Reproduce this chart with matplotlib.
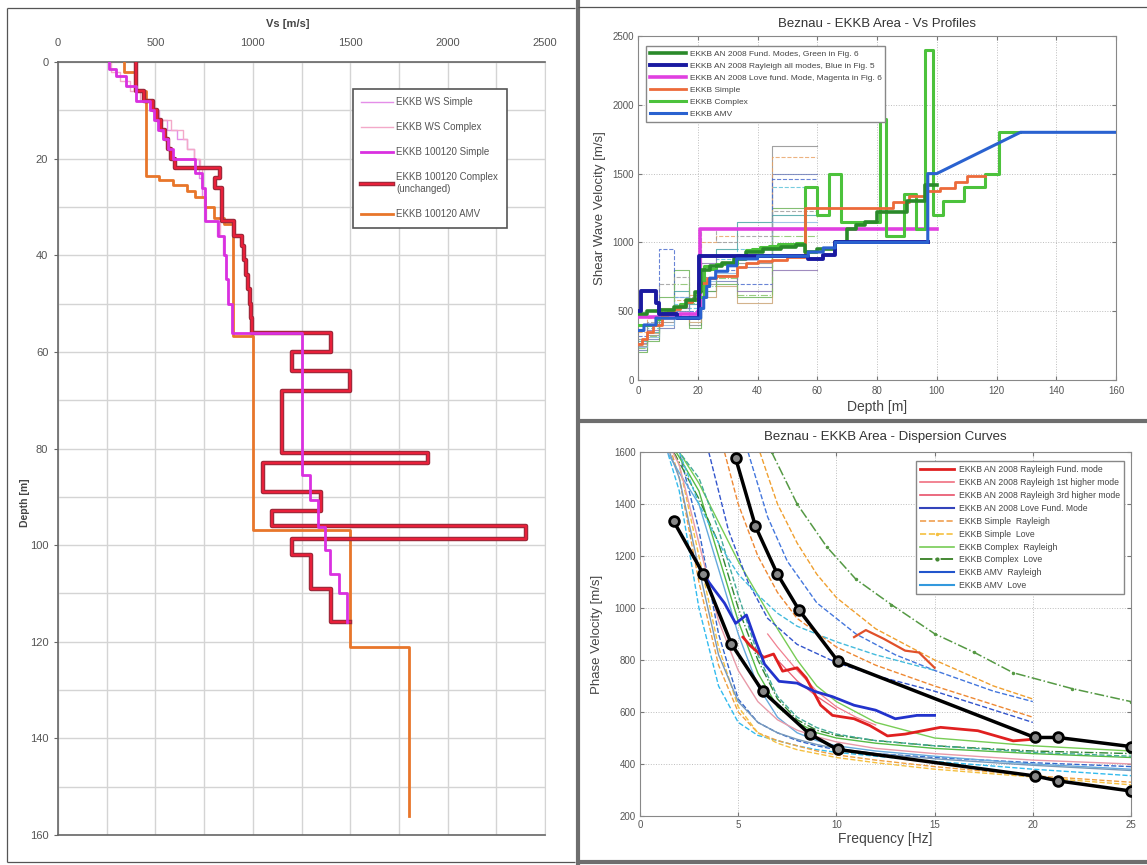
import numpy as np
import matplotlib
matplotlib.use("Agg")
import matplotlib.pyplot as plt
from matplotlib.lines import Line2D
import matplotlib.patheffects as pe

plt.rcParams['font.family'] = ['Liberation Sans', 'DejaVu Sans']

# ---------------- data: left panel (Vs vs depth) ----------------
WSS_TOPS = [0, 1.5, 3, 5, 8, 10, 12, 14, 16, 18, 20, 24, 28, 33, 36, 40, 45, 50]
WSS_VS = [260, 300, 350, 400, 480, 520, 560, 610, 660, 700, 725, 740, 755, 815, 845, 860, 875, 893]
WSS_BOTTOM = 56
WSC_TOPS = [0, 2, 4, 6, 8, 10, 12, 14, 16, 18, 20, 22, 26, 30, 33]
WSC_VS = [270, 320, 370, 420, 470, 510, 580, 640, 660, 700, 730, 740, 750, 760, 830]
WSC_BOTTOM = 36
SIMPLE_TOPS = [0, 1.5, 3, 5, 8, 10, 12, 14, 16, 18, 20, 23, 26, 33, 36, 40, 45, 50, 56,
               85.5, 90.7, 96.2, 101, 106, 110]
SIMPLE_VS = [260, 300, 350, 400, 470, 495, 515, 540, 565, 590, 705, 740, 755, 820, 850, 862,
             875, 893, 1250, 1293, 1336, 1370, 1396, 1440, 1483]
SIMPLE_BOTTOM = 116
COMPLEX_TOPS = [0, 6, 8, 10, 12, 14, 16, 18, 20, 22, 24, 26, 33, 36, 38, 41, 44, 47, 50, 53,
                56, 60, 64, 68, 81, 83, 89, 93, 96, 98.8, 102, 109, 116]
COMPLEX_VS = [400, 440, 490, 510, 530, 550, 565, 580, 600, 830, 805, 840, 905, 945, 955, 965,
              975, 985, 992, 998, 1400, 1200, 1500, 1150, 1900, 1050, 1350, 1100, 2400, 1200,
              1300, 1400, 1500]
COMPLEX_BOTTOM = 116
AMV_TOPS = [0, 2, 6, 23.5, 24.5, 25.5, 26.7, 28, 30, 32.2, 33.5, 56.8, 96.8, 121]
AMV_VS = [340, 400, 450, 520, 590, 660, 705, 755, 800, 850, 900, 1000, 1500, 1800]
AMV_BOTTOM = 156

# ---------------- data: top-right panel (Vs profiles vs depth) ----------------
ENS_TOPS = [0, 3, 7, 12, 17, 21, 26, 33, 45]
ENS_BOTTOM = 60
ENS_VS = [
    [250, 330, 420, 480, 400, 700, 760, 850, 1700],
    [220, 300, 380, 500, 450, 650, 720, 820, 1500],
    [300, 380, 450, 550, 520, 800, 880, 950, 1400],
    [200, 280, 600, 800, 380, 650, 700, 600, 1250],
    [350, 450, 500, 580, 620, 1000, 1050, 1100, 1620],
    [280, 350, 480, 650, 550, 900, 950, 1150, 1200],
    [320, 400, 950, 600, 500, 750, 800, 700, 1460],
    [260, 340, 520, 460, 420, 600, 680, 560, 1100],
    [240, 310, 400, 600, 470, 720, 780, 900, 1150],
    [300, 420, 700, 750, 600, 1100, 1000, 1050, 1230],
    [270, 360, 440, 520, 580, 850, 900, 650, 800],
    [230, 320, 460, 700, 560, 680, 740, 620, 1050],
]
FUND_TOPS = [0, 3, 7, 12, 16, 19, 21, 24, 28, 32, 36, 42, 48, 53, 56, 60, 66, 70, 73, 76, 80, 90, 96]
FUND_VS = [480, 500, 510, 530, 580, 640, 800, 830, 850, 880, 930, 950, 965, 980, 930, 950,
           1000, 1100, 1130, 1150, 1220, 1300, 1420]
FUND_BOTTOM = 100
RAYALL_TOPS = [0, 1, 6, 7, 13, 20.5, 57, 62, 66]
RAYALL_VS = [500, 650, 560, 480, 450, 900, 880, 910, 1000]
RAYALL_BOTTOM = 97
LOVE_TOPS = [0, 8, 14, 20, 20.8]
LOVE_VS = [460, 470, 480, 500, 1100]
LOVE_BOTTOM = 100
RCOMPLEX_TOPS = COMPLEX_TOPS + [121]
RCOMPLEX_VS = COMPLEX_VS + [1800]
RCOMPLEX_BOTTOM = 128
RAMV_TOPS = [0, 2, 6, 21, 22, 23, 24, 26, 30, 33, 40, 57, 62, 66, 97]
RAMV_VS = [360, 400, 450, 520, 600, 680, 740, 790, 830, 880, 900, 930, 960, 1000, 1500]
RAMV_BOTTOM = 100
RAMV_TAIL_D = [128, 160]
RAMV_TAIL_V = [1800, 1800]

# ---------------- data: bottom-right panel (dispersion curves) ----------------
DC_F = [1, 2, 3, 4, 5, 6, 7, 8, 9, 10, 12, 15, 20, 25]
DC_LOW = [
    [1700, 1450, 1000, 700, 560, 510, 490, 470, 455, 445, 430, 410, 380, 355],
    [1750, 1500, 1100, 780, 600, 520, 490, 470, 450, 435, 415, 390, 355, 330],
    [1800, 1600, 1300, 900, 650, 560, 520, 490, 470, 455, 440, 425, 405, 390],
    [1700, 1580, 1450, 1200, 950, 750, 620, 560, 520, 500, 480, 460, 440, 425],
    [1750, 1550, 1200, 850, 620, 520, 480, 455, 440, 425, 405, 380, 350, 320],
    [1650, 1520, 1400, 1150, 900, 700, 580, 520, 490, 470, 450, 430, 400, 380],
    [1700, 1560, 1420, 1250, 1000, 800, 650, 570, 530, 510, 490, 470, 450, 440],
    [1700, 1500, 1150, 820, 640, 560, 520, 495, 475, 460, 440, 420, 395, 375],
    [1700, 1550, 1250, 950, 760, 640, 570, 530, 505, 485, 460, 440, 415, 400],
    [1700, 1600, 1480, 1330, 1180, 1050, 920, 800, 700, 640, 560, 500, 470, 450],
    [1700, 1600, 1500, 1300, 1050, 820, 660, 580, 540, 515, 490, 470, 445, 430],
]
H1_F = [3.5, 4.5, 5.5, 6.5, 8, 10, 12, 15, 20]
H1_V = [1600, 1300, 1100, 960, 860, 790, 740, 680, 560]
H2_F = [4.3, 5, 6, 7, 8, 10, 12, 15, 20]
H2_V = [1600, 1400, 1200, 1060, 960, 850, 780, 700, 580]
H3_F = [5.5, 6.5, 7.5, 9, 11, 13, 15, 18, 20]
H3_V = [1600, 1350, 1180, 1020, 900, 820, 760, 680, 640]
H4_F = [6.1, 7, 8, 9, 10, 12, 15, 18, 20]
H4_V = [1600, 1400, 1250, 1130, 1040, 920, 800, 700, 650]
H5_F = [6.7, 8, 9.5, 11, 12.8, 15, 17, 19, 22, 25]
H5_V = [1600, 1400, 1236, 1110, 1013, 901, 830, 751, 690, 640]
H6_F = [2, 3, 4, 5, 6, 7, 8, 10, 12, 15]
H6_V = [1600, 1400, 1250, 1130, 1050, 980, 930, 870, 820, 760]
P1_F = [6.5, 7, 8, 9, 10, 11, 12]
P1_V = [900, 850, 760, 680, 620, 580, 550]
P2_F = [7, 8, 9, 10]
P2_V = [800, 720, 660, 610]
RF_F = [5.24, 5.6, 6.3, 6.8, 7.26, 8.0, 8.46, 9.2, 9.8, 10.9, 11.7, 12.6, 13.5, 15.3, 17.2, 19.0, 20.0]
RF_V = [888, 856, 810, 823, 757, 770, 731, 626, 587, 574, 548, 508, 515, 541, 528, 489, 495]
RH_F = [10.9, 11.5, 12.4, 13.5, 14.2, 15.0]
RH_V = [888, 915, 882, 836, 829, 770]
LF_F = [3.2, 3.77, 4.3, 4.87, 5.42, 5.88, 6.34, 7.08, 8.0, 8.9, 9.8, 10.9, 12.0, 13.0, 14.1, 15.0]
LF_V = [1131, 1072, 1019, 941, 973, 875, 784, 718, 711, 679, 659, 626, 607, 574, 587, 587]
BLK1_F = [1.71, 3.22, 4.65, 6.25, 8.64, 10.06, 20.1, 21.3, 25.0]
BLK1_V = [1334, 1131, 862, 679, 515, 456, 354, 335, 296]
BLK2_F = [4.87, 5.88, 6.99, 8.09, 10.06, 20.1, 21.27, 25.0]
BLK2_V = [1576, 1314, 1131, 993, 797, 502, 502, 467]

# ---------------- helpers ----------------
W, H = 1147, 865
fig = plt.figure(figsize=(W / 100, H / 100), dpi=100)


def fx(px):
    return px / W


def fy(py):
    return 1 - py / H


def box(l, t, r, b):
    return [fx(l), fy(b), fx(r) - fx(l), fy(t) - fy(b)]


def steps(tops, vs, bottom):
    bounds = list(tops[1:]) + [bottom]
    d, v = [], []
    for t, b, val in zip(tops, bounds, vs):
        d += [t, b]
        v += [val, val]
    return np.array(d, float), np.array(v, float)


TICKC = '#555555'

# ---------------- left panel ----------------
ax1 = fig.add_axes(box(58, 62, 545, 835))
ax1.set_xlim(0, 2500)
ax1.set_ylim(160, 0)
ax1.xaxis.tick_top()
ax1.xaxis.set_label_position('top')
ax1.set_xticks(range(0, 2501, 500))
ax1.set_xticks(range(250, 2500, 500), minor=True)
ax1.set_yticks(range(0, 161, 20))
ax1.set_yticks(range(10, 160, 20), minor=True)
ax1.grid(which='both', color='#d4d4d4', lw=1.0)
ax1.set_axisbelow(True)
ax1.tick_params(which='major', direction='out', length=3, labelsize=8, colors='#666666',
                labelcolor=TICKC)
ax1.tick_params(axis='x', which='major', length=0, pad=10)
ax1.tick_params(axis='y', which='major', pad=4)
ax1.tick_params(which='minor', length=0)
for s in ['left', 'top', 'bottom']:
    ax1.spines[s].set_color('#666666')
    ax1.spines[s].set_linewidth(1.2)
ax1.spines['right'].set_color('#d4d4d4')
ax1.set_xlabel('Vs [m/s]', fontsize=8, fontweight='bold', color='#444444')
ax1.xaxis.set_label_coords(0.472, 1.045)
ax1.set_ylabel('Depth [m]', fontsize=7.5, fontweight='bold', color='#444444')
ax1.yaxis.set_label_coords(-0.058, 0.43)

d, v = steps(WSS_TOPS, WSS_VS, WSS_BOTTOM)
ax1.plot(v, d, color='#e48ee8', lw=1.0, label='EKKB WS Simple')
d, v = steps(WSC_TOPS, WSC_VS, WSC_BOTTOM)
ax1.plot(v, d, color='#f3a9c9', lw=1.0, label='EKKB WS Complex')
d, v = steps(AMV_TOPS, AMV_VS, AMV_BOTTOM)
l_amv, = ax1.plot(v, d, color='#e8762a', lw=2.0, label='EKKB 100120 AMV', zorder=3)
d, v = steps(COMPLEX_TOPS, COMPLEX_VS, COMPLEX_BOTTOM)
l_cpx, = ax1.plot(v, d, color='#e8203a', lw=1.6, zorder=4,
                  label='EKKB 100120 Complex\n(unchanged)',
                  path_effects=[pe.Stroke(linewidth=3.2, foreground='#9a2a3a'), pe.Normal()])
d, v = steps(SIMPLE_TOPS, SIMPLE_VS, SIMPLE_BOTTOM)
l_smp, = ax1.plot(v, d, color='#d930e0', lw=2.0, label='EKKB 100120 Simple', zorder=5)

h, lab = ax1.get_legend_handles_labels()
order = [lab.index(x) for x in ['EKKB WS Simple', 'EKKB WS Complex', 'EKKB 100120 Simple',
                                 'EKKB 100120 Complex\n(unchanged)', 'EKKB 100120 AMV']]
leg1 = ax1.legend([h[i] for i in order], [lab[i] for i in order], loc='upper left',
                  bbox_to_anchor=(0.595, 0.972), fontsize=7, labelspacing=1.55,
                  handlelength=3.3, handletextpad=0.3, borderpad=0.9, fancybox=False,
                  edgecolor='#555555', framealpha=1)
leg1.get_frame().set_linewidth(1.2)
for t in leg1.get_texts():
    t.set_color('#555555')

# ---------------- top-right panel ----------------
ax2 = fig.add_axes(box(638, 36, 1116, 380))
ax2.set_xlim(0, 160)
ax2.set_ylim(0, 2500)
ax2.set_xticks(range(0, 161, 20))
ax2.set_yticks(range(0, 2501, 500))
ax2.grid(color='#bdbdbd', ls=':', lw=0.7)
ax2.tick_params(direction='in', length=3, labelsize=7, colors='#777777', labelcolor=TICKC,
                top=True, right=True)
ax2.tick_params(axis='x', pad=4)
ax2.tick_params(axis='y', pad=3)
for s in ax2.spines.values():
    s.set_color('#888888')
ax2.set_title('Beznau - EKKB Area - Vs Profiles', fontsize=9.5, color='#333333', pad=6.5)
ax2.set_xlabel('Depth [m]', fontsize=10, color='#444444')
ax2.xaxis.set_label_coords(0.5, -0.058)
ax2.set_ylabel('Shear Wave Velocity [m/s]', fontsize=9.5, color='#444444')
ax2.yaxis.set_label_coords(-0.066, 0.5)

ens_colors = ['#8a8a8a', '#6a7ab8', '#55c0d8', '#66b050', '#e8a060', '#40a0a0',
              '#4466cc', '#c8a070', '#88b8e0', '#999999', '#8870b0', '#80c060']
ens_styles = ['-', '-', '--', '-', '--', '-', '--', '-', '-', '--', '-', '-.']
for row, c, ls in zip(ENS_VS, ens_colors, ens_styles):
    d, v = steps(ENS_TOPS, row, ENS_BOTTOM)
    ax2.plot(d, v, color=c, lw=0.8, ls=ls, alpha=0.8, zorder=2)

d, v = steps(LOVE_TOPS, LOVE_VS, LOVE_BOTTOM)
ax2.plot(d, v, color='#e040e0', lw=2.6, zorder=3,
         label='EKKB AN 2008 Love fund. Mode, Magenta in Fig. 6')
d, v = steps(RCOMPLEX_TOPS, RCOMPLEX_VS, RCOMPLEX_BOTTOM)
ax2.plot(d, v, color='#4cc23c', lw=2.2, zorder=4, label='EKKB Complex')
d, v = steps(SIMPLE_TOPS, SIMPLE_VS, SIMPLE_BOTTOM)
ax2.plot(d, v, color='#ec6a3a', lw=2.0, zorder=5, label='EKKB Simple')
d, v = steps(FUND_TOPS, FUND_VS, FUND_BOTTOM)
ax2.plot(d, v, color='#2a8a2a', lw=2.6, zorder=5,
         label='EKKB AN 2008 Fund. Modes, Green in Fig. 6')
d, v = steps(RAYALL_TOPS, RAYALL_VS, RAYALL_BOTTOM)
ax2.plot(d, v, color='#1a1aa0', lw=2.8, zorder=6,
         label='EKKB AN 2008 Rayleigh all modes, Blue in Fig. 5')
d, v = steps(RAMV_TOPS, RAMV_VS, RAMV_BOTTOM)
d = np.concatenate([d, RAMV_TAIL_D])
v = np.concatenate([v, RAMV_TAIL_V])
ax2.plot(d, v, color='#2a62d0', lw=2.2, zorder=7, label='EKKB AMV')

h, lab = ax2.get_legend_handles_labels()
names2 = ['EKKB AN 2008 Fund. Modes, Green in Fig. 6',
          'EKKB AN 2008 Rayleigh all modes, Blue in Fig. 5',
          'EKKB AN 2008 Love fund. Mode, Magenta in Fig. 6',
          'EKKB Simple', 'EKKB Complex', 'EKKB AMV']
order = [lab.index(x) for x in names2]
leg2 = ax2.legend([h[i] for i in order], [lab[i] for i in order], loc='upper left',
                  bbox_to_anchor=(0.008, 0.982), fontsize=6, labelspacing=0.5,
                  handlelength=4.3, handletextpad=0.5, borderpad=0.45, fancybox=False,
                  edgecolor='#888888', framealpha=1)
for t in leg2.get_texts():
    t.set_color('#444444')

# ---------------- bottom-right panel ----------------
ax3 = fig.add_axes(box(640, 452, 1131, 816))
ax3.set_xlim(0, 25)
ax3.set_ylim(200, 1600)
ax3.set_xticks(range(0, 26, 5))
ax3.set_yticks(range(200, 1601, 200))
ax3.grid(color='#bdbdbd', ls=':', lw=0.7)
ax3.tick_params(direction='in', length=3, labelsize=7, colors='#777777', labelcolor=TICKC,
                top=True, right=True)
ax3.tick_params(axis='x', pad=3)
ax3.tick_params(axis='y', pad=3)
for s in ax3.spines.values():
    s.set_color('#888888')
ax3.set_title('Beznau - EKKB Area - Dispersion Curves', fontsize=9.5, color='#333333', pad=8.5)
ax3.set_xlabel('Frequency [Hz]', fontsize=10, color='#444444')
ax3.xaxis.set_label_coords(0.5, -0.045)
ax3.set_ylabel('Phase Velocity [m/s]', fontsize=9.5, color='#444444')
ax3.yaxis.set_label_coords(-0.075, 0.5)

low_colors = ['#33bbee', '#f0a040', '#3366cc', '#55bb44', '#f5c040', '#66aadd', '#338833',
              '#7799bb', '#e89aa8', '#77cc55', '#44aa99']
low_styles = ['--', '--', '--', '-', '--', '-', '-.', '-', '-', '-', '--']
for row, c, ls in zip(DC_LOW, low_colors, low_styles):
    ax3.plot(DC_F, row, color=c, lw=1.0, ls=ls, zorder=2)
ax3.plot(H1_F, H1_V, color='#3355cc', lw=1.0, ls='--', zorder=2)
ax3.plot(H2_F, H2_V, color='#ee8833', lw=1.0, ls='--', zorder=2)
ax3.plot(H3_F, H3_V, color='#4477dd', lw=1.0, ls='--', zorder=2)
ax3.plot(H4_F, H4_V, color='#f0a030', lw=1.0, ls='--', zorder=2)
ax3.plot(H5_F, H5_V, color='#559944', lw=1.1, ls='-.', marker='.', ms=3, zorder=2)
ax3.plot(H6_F, H6_V, color='#44bbdd', lw=1.0, ls='--', zorder=2)
ax3.plot(P1_F, P1_V, color='#f08090', lw=0.9, zorder=2)
ax3.plot(P2_F, P2_V, color='#e86078', lw=0.9, zorder=2)

ax3.plot(RH_F, RH_V, color='#e0502a', lw=1.6, zorder=4)
ax3.plot(RF_F, RF_V, color='#e02020', lw=2.0, zorder=4)
ax3.plot(LF_F, LF_V, color='#2233cc', lw=2.0, zorder=4)
ax3.plot(BLK1_F, BLK1_V, color='black', lw=2.5, marker='o', ms=7, mfc='#888888',
         mec='black', mew=2, zorder=6)
ax3.plot(BLK2_F, BLK2_V, color='black', lw=2.5, marker='o', ms=7, mfc='#888888',
         mec='black', mew=2, zorder=6)

leg_items = [
    ('EKKB AN 2008 Rayleigh Fund. mode', dict(color='#e02020', lw=2.0)),
    ('EKKB AN 2008 Rayleigh 1st higher mode', dict(color='#f07080', lw=1.2)),
    ('EKKB AN 2008 Rayleigh 3rd higher mode', dict(color='#e8506a', lw=1.2)),
    ('EKKB AN 2008 Love Fund. Mode', dict(color='#3344bb', lw=1.5)),
    ('EKKB Simple  Rayleigh', dict(color='#f0a050', lw=1.2, ls='--')),
    ('EKKB Simple  Love', dict(color='#f5c040', lw=1.2, ls='--', marker='.', ms=3)),
    ('EKKB Complex  Rayleigh', dict(color='#77cc55', lw=1.2)),
    ('EKKB Complex  Love', dict(color='#448833', lw=1.4, ls='-.', marker='.', ms=4)),
    ('EKKB AMV  Rayleigh', dict(color='#2255cc', lw=1.5)),
    ('EKKB AMV  Love', dict(color='#3399dd', lw=1.5)),
]
handles3 = [Line2D([], [], **kw) for _, kw in leg_items]
leg3 = ax3.legend(handles3, [n for n, _ in leg_items], loc='upper right',
                  bbox_to_anchor=(0.994, 0.986), fontsize=6.2, labelspacing=0.45,
                  handlelength=4.0, handletextpad=0.5, borderpad=0.45, fancybox=False,
                  edgecolor='#888888', framealpha=1)
for t in leg3.get_texts():
    t.set_color('#444444')

# ---------------- panel frames ----------------
def hline(x0, x1, y, lw, c):
    fig.add_artist(Line2D([fx(x0), fx(x1)], [fy(y), fy(y)], transform=fig.transFigure,
                          color=c, lw=lw, solid_capstyle='butt'))


def vline(x, y0, y1, lw, c):
    fig.add_artist(Line2D([fx(x), fx(x)], [fy(y0), fy(y1)], transform=fig.transFigure,
                          color=c, lw=lw, solid_capstyle='butt'))


# left panel frame
hline(7, 575, 8, 0.9, '#555555')
hline(7, 575, 862, 0.9, '#555555')
vline(7, 8, 862, 0.9, '#555555')
# dividers
vline(578, 0, 865, 3.0, '#6e6e6e')
hline(578, 1147, 421, 3.0, '#6e6e6e')
hline(578, 1147, 862, 3.0, '#6e6e6e')
hline(578, 1147, 7, 0.9, '#555555')

fig.savefig('out.png', dpi=100)
